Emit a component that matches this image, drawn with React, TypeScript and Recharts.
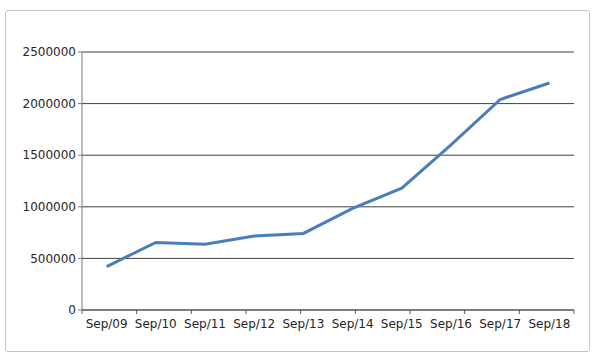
import { LineChart, Line, XAxis, YAxis, CartesianGrid } from "recharts";

const months = ["Sep/09", "Sep/10", "Sep/11", "Sep/12", "Sep/13", "Sep/14", "Sep/15", "Sep/16", "Sep/17", "Sep/18"];
const values = [420000, 655000, 638000, 716000, 742000, 985000, 1180000, 1600000, 2040000, 2200000];
const yTicks = [0, 500000, 1000000, 1500000, 2000000, 2500000];
// category boundaries (tick marks sit between the labels)
const edgeTicks = [0, 1, 2, 3, 4, 5, 6, 7, 8, 9, 10];

const data = months.map((month, i) => ({ month, value: values[i] }));

const tickStyle = { fontSize: 12, fill: "#262626", fontFamily: "DejaVu Sans" };

const NoLabel = () => <g />;

export default function App() {
  const bandPad = 492 / months.length / 2;
  return (
    <div style={{ position: "absolute", left: 0, top: 0, width: 600, height: 363, background: "#fff" }}>
      <div
        style={{
          position: "absolute", left: 5, top: 10, width: 583, height: 340,
          border: "1px solid #c4c4c4", borderRadius: 3,
        }}
      />
      <LineChart width={600} height={363} data={data} margin={{ top: 52, right: 26, left: 0, bottom: 23 }}>
        <CartesianGrid horizontal vertical={false} stroke="#404040" strokeWidth={1} />
        <XAxis
          xAxisId="aEdge"
          type="number"
          domain={[0, 10]}
          ticks={edgeTicks}
          height={4}
          tick={NoLabel}
          tickSize={4}
          axisLine={{ stroke: "#5a5a5a" }}
          tickLine={{ stroke: "#5a5a5a" }}
        />
        <XAxis
          xAxisId="cat"
          dataKey="month"
          height={26}
          padding={{ left: bandPad, right: bandPad }}
          axisLine={false}
          tickLine={false}
          tickSize={0}
          tickMargin={5}
          interval={0}
          tick={tickStyle}
        />
        <YAxis
          width={82}
          domain={[0, 2500000]}
          ticks={yTicks}
          tickSize={4}
          tick={tickStyle}
          axisLine={{ stroke: "#7a7a7a" }}
          tickLine={{ stroke: "#7a7a7a" }}
        />
        <Line
          xAxisId="cat"
          type="linear"
          dataKey="value"
          stroke="#4A7EBB"
          strokeWidth={3}
          dot={false}
          isAnimationActive={false}
        />
      </LineChart>
    </div>
  );
}
